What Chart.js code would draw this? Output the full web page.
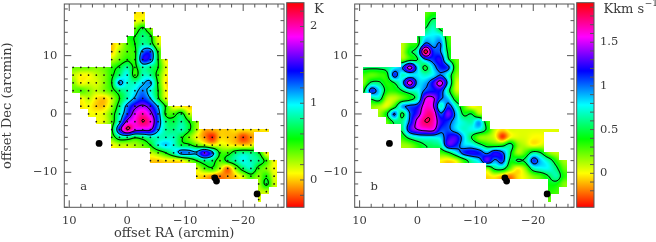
<!DOCTYPE html>
<html>
<head>
<meta charset="utf-8">
<script src="https://cdn.jsdelivr.net/npm/chart.js@4"></script>
<style>
body { margin: 0; background: #fff; }
canvas { position: absolute; top: 0; filter: blur(0.35px); }
</style>
</head>
<body>
<canvas id="mapA" width="288" height="242" style="left:0"></canvas>
<canvas id="barA" width="40" height="242" style="left:286px"></canvas>
<canvas id="mapB" width="258" height="242" style="left:320px"></canvas>
<canvas id="barB" width="80" height="242" style="left:576px"></canvas>
<script>
// map grid, arcmin
const raOffsets = [9.33,8,6.67,5.33,4,2.67,1.33,0,-1.33,-2.67,-4,-5.33,-6.67,-8,-9.33,-10.67,-12,-13.33,-14.67,-16,-17.33,-18.67,-20,-21.33,-22.67,-24,-25.33];
const decOffsets = [17.33,16,14.67,13.33,12,10.67,9.33,8,6.67,5.33,4,2.67,1.33,0,-1.33,-2.67,-4,-5.33,-6.67,-8,-9.33,-10.67,-12,-13.33,-14.67];

// each row: first RA column, then the values
const tempRows = [
  [8,.05,.05],
  [8,.1,.15],
  [8,.35,.6,.3],
  [7,.5,.55,.75,.6,.15],
  [5,0,.15,.4,.55,.8,.7,.2],
  [5,0,.25,.4,.5,1.2,1.3,.5],
  [5,.2,.35,.5,.5,1.4,1.3,.55,.1],
  [0,.35,.35,.35,.3,.35,.45,.6,.8,.5,.85,.75,.55,.15],
  [0,.2,.1,.1,.2,.3,.5,.75,.95,.45,.85,.8,.45,.1],
  [0,.3,.1,.15,.15,.3,.55,1.15,.9,.85,1.05,1.15,.5,.05],
  [0,.35,.4,.3,.2,.3,.45,.7,.85,1,1.2,.95,.55,.1],
  [1,.1,.2,.05,0,.2,.55,.85,1.15,1.35,1.1,.6,.15],
  [1,.05,.1,0,0,.25,.7,1.2,1.55,1.7,1.5,1.05,.5,.1,.05,0],
  [2,.1,.1,.15,.4,.85,1.35,1.8,2,1.75,1.25,.5,.45,.65,.2],
  [3,.1,.15,.4,1,1.75,1.9,2.15,1.95,1.3,.75,.65,.8,.55,.3],
  [5,.5,1.45,2.15,1.8,1.75,1.7,1.15,.8,.75,.85,.6,.25,-.05,-.05,0,0,.05,.05,.05,.05,.05],
  [5,.4,.75,.8,.6,.7,.85,.85,.85,.85,.6,.35,.1,-.1,-.3,0,0,-.05,-.25,-.1],
  [5,.1,.2,.2,.25,.35,.55,.9,1.05,.9,.65,.6,.4,.25,.1,.15,.1,.05,0,.05],
  [10,.2,.35,.55,.85,1.2,1.2,1.15,1.6,1.2,.5,.45,.7,.8,.75,.6,.1],
  [10,0,0,.05,.05,.1,.3,.55,.75,.7,.4,.62,.8,.95,.85,.75,.45,.1],
  [16,.15,.4,.5,.2,-.15,.3,.7,.85,.45,.3,.1],
  [16,.05,0,-.1,-.15,-.1,0,.2,.45,.3,.5,.15],
  [24,.25,.6,.2],
  [24,.2,.2],
  [24,.15]
];
const intensityRows = [
  [8,.25,.35],
  [8,.35,.55],
  [8,.5,.7,.45],
  [7,.45,.75,.8,.8,.3],
  [5,.1,.3,.4,1.05,.9,1,.35],
  [5,.1,.45,.7,1.9,1.15,1,.45],
  [5,.2,.4,.5,.95,1.1,1.2,.55,.25],
  [0,.55,.55,.55,.6,.75,.95,1.55,.85,.45,.85,1.15,1.05,.3],
  [0,.3,.25,.3,.4,1.1,.7,.8,.8,.7,.8,1,.7,.2],
  [0,.2,.55,.55,.35,.5,.85,1.6,.9,.9,1.2,1.55,.85,.1],
  [0,.45,1.1,.85,.4,.35,.5,.7,.75,1.05,1.15,1.15,.6,.1],
  [1,.55,.65,.15,.1,.25,.4,.65,1.45,1.5,1.05,.85,.35],
  [1,.2,.15,.05,.35,.9,1.05,1.15,1.6,1.5,.7,1.1,.7,.3,0,.05],
  [2,.15,.45,1.02,.45,1,1.3,1.7,1.7,1.05,1.35,.9,.45,.5,.15],
  [3,.25,.55,.6,1.05,1.55,1.8,1.7,1.25,1.1,.85,.7,.65,.9,.35],
  [5,.55,1.2,1.45,1.55,1.55,1.1,1.05,.85,.7,.75,.75,.45,.1,-.05,.05,.05,.05,.05,.05,.05,.05],
  [5,.35,.6,.75,.8,.8,.85,1.2,1.25,.85,.5,.2,.15,.05,-.3,0,.05,.05,0,0],
  [5,.15,.2,.35,.5,.55,.65,1.25,1.15,.85,.8,.6,.4,.35,.4,.6,.2,.1,0,.05],
  [10,.3,.45,.75,1.1,1.2,1.15,.95,1.2,1.05,.55,.15,.3,.6,.5,.2,.1],
  [10,0,-.05,.05,.35,.65,.85,1.3,.95,1.1,.45,.52,.55,1.1,.85,.65,.35,.15],
  [16,.2,.55,.6,.25,0,.2,.65,.75,.75,.55,.25],
  [16,-.05,0,-.1,-.2,-.05,.05,.2,.3,.5,.65,.35],
  [24,.4,.4,.2],
  [24,.35,.3],
  [24,.25]
];

const beamRA = [4.85,-15.1,-15.4,-22.4];
const beamDec = [-5.05,-10.95,-11.5,-13.7];

const xTickValues = [10,8,6,4,2,0,-2,-4,-6,-8,-10,-12,-14,-16,-18,-20,-22,-24,-26];
const yTickValues = [18,16,14,12,10,8,6,4,2,0,-2,-4,-6,-8,-10,-12,-14,-16];
const tempLevels = [.55,1.1,1.65,2.15];
const intensityLevels = [.5,1,1.45,1.8];
const tempBarTicks = [-.2,0,.2,.4,.6,.8,1,1.2,1.4,1.6,1.8,2,2.2];
const tempBarLabels = [0,1,2];
const intensityBarTicks = [-.2,-.1,0,.1,.2,.3,.4,.5,.6,.7,.8,.9,1,1.1,1.2,1.3,1.4,1.5,1.6,1.7,1.8,1.9];
const intensityBarLabels = [0,.5,1,1.5];

const FONT = { family: '"DejaVu Serif"', size: 11.5 };
const TITLE_FONT = { family: '"DejaVu Serif"', size: 13 };
const INK = '#3a3a3a';
const FRAME = '#555';
const minus = v => String(v).replace('-', '\u2212');
const noScalePadding = s => { s.paddingTop = s.paddingBottom = s.paddingLeft = s.paddingRight = 0; };

function expand(rows) {
  return rows.map(r => {
    const out = new Array(raOffsets.length).fill(null);
    r.slice(1).forEach((v, k) => { out[r[0] + k] = v; });
    return out;
  });
}

// bleed values outward so the spline has something to read at the map edge
function padded(cells) {
  let g = cells.map(r => r.slice());
  for (let pass = 0; pass < 8; pass++) {
    const next = g.map(r => r.slice());
    g.forEach((r, j) => r.forEach((v, i) => {
      if (v !== null) return;
      const near = [[0,1],[0,-1],[1,0],[-1,0]].map(d => (g[j + d[0]] || [])[i + d[1]]).filter(n => n !== null && n !== undefined);
      if (near.length) next[j][i] = near.reduce((a, b) => a + b, 0) / near.length;
    }));
    g = next;
  }
  return g.map(r => r.map(v => v === null ? 0 : v));
}

function cr(t) {
  const t2 = t * t, t3 = t2 * t;
  return [(-t3 + 2 * t2 - t) / 2, (3 * t3 - 5 * t2 + 2) / 2, (-3 * t3 + 4 * t2 + t) / 2, (t3 - t2) / 2];
}

function sampler(grid) {
  const nj = grid.length, ni = grid[0].length;
  return (u, v) => {
    const i = Math.floor(u), j = Math.floor(v);
    const wu = cr(u - i), wv = cr(v - j);
    let s = 0;
    for (let b = 0; b < 4; b++) {
      const row = grid[Math.min(nj - 1, Math.max(0, j + b - 1))];
      for (let a = 0; a < 4; a++) s += wu[a] * wv[b] * row[Math.min(ni - 1, Math.max(0, i + a - 1))];
    }
    return s;
  };
}

function hueRgb(h) {
  h = ((h % 360) + 360) % 360 / 60;
  const x = 1 - Math.abs(h % 2 - 1);
  const c = [[1,x,0],[x,1,0],[0,1,x],[0,x,1],[x,0,1],[1,0,x]][Math.floor(h)];
  return c.map(k => Math.round(k * 255));
}

// map edge hugs the dots on the top/left and sits a little past them right/bottom
function inMask(cells, u, v) {
  const cell = (i, j) => (cells[j] || [])[i];
  const ok = c => c !== null && c !== undefined;
  const uu = u + 0.09, vv = v + 0.09, i = Math.floor(uu), j = Math.floor(vv), fu = uu - i, fv = vv - j, m = 0.43;
  if (!ok(cell(i, j))) return false;
  if (fu > m && !ok(cell(i + 1, j))) return false;
  if (fv > m && !ok(cell(i, j + 1))) return false;
  if (fu > m && fv > m && !ok(cell(i + 1, j + 1))) return false;
  return true;
}

const shadedMap = {
  id: 'shadedMap',
  beforeDatasetsDraw(chart, args, opts) {
    const { ctx, chartArea: a, scales: { x, y } } = chart;
    const cells = expand(opts.rows), f = sampler(padded(cells));
    const du = (raOffsets[0] - raOffsets[raOffsets.length - 1]) / (raOffsets.length - 1);
    const dv = (decOffsets[0] - decOffsets[decOffsets.length - 1]) / (decOffsets.length - 1);
    const x0 = Math.floor(a.left), y0 = Math.floor(a.top), w = Math.ceil(a.right) - x0, h = Math.ceil(a.bottom) - y0;
    const field = new Float32Array(w * h).fill(NaN);
    const off = document.createElement('canvas');
    off.width = w; off.height = h;
    const octx = off.getContext('2d'), img = octx.createImageData(w, h);
    for (let py = 0; py < h; py++) {
      const v = (decOffsets[0] - y.getValueForPixel(y0 + py + .5)) / dv;
      for (let px = 0; px < w; px++) {
        const u = (raOffsets[0] - x.getValueForPixel(x0 + px + .5)) / du;
        if (!inMask(cells, u, v)) continue;
        const val = f(u, v), k = py * w + px;
        field[k] = val;
        const t = Math.min(1, Math.max(0, (val - opts.vmin) / (opts.vmax - opts.vmin)));
        const c = hueRgb(360 * t);
        img.data[k * 4] = c[0]; img.data[k * 4 + 1] = c[1]; img.data[k * 4 + 2] = c[2]; img.data[k * 4 + 3] = 255;
      }
    }
    octx.putImageData(img, 0, 0);
    ctx.drawImage(off, x0, y0);

    // contours, marching squares over the shaded pixels
    ctx.save();
    ctx.strokeStyle = 'rgba(0,0,0,.85)';
    ctx.lineWidth = 0.8;
    ctx.lineCap = 'round';
    ctx.beginPath();
    opts.levels.forEach(L => {
      for (let py = 0; py < h - 1; py++) for (let px = 0; px < w - 1; px++) {
        const a0 = field[py * w + px], b0 = field[py * w + px + 1], c0 = field[(py + 1) * w + px + 1], d0 = field[(py + 1) * w + px];
        if (isNaN(a0) || isNaN(b0) || isNaN(c0) || isNaN(d0)) continue;
        const pts = [];
        if ((a0 < L) !== (b0 < L)) pts.push([px + (L - a0) / (b0 - a0), py]);
        if ((b0 < L) !== (c0 < L)) pts.push([px + 1, py + (L - b0) / (c0 - b0)]);
        if ((d0 < L) !== (c0 < L)) pts.push([px + (L - d0) / (c0 - d0), py + 1]);
        if ((a0 < L) !== (d0 < L)) pts.push([px, py + (L - a0) / (d0 - a0)]);
        for (let s = 0; s + 1 < pts.length; s += 2) {
          ctx.moveTo(x0 + pts[s][0] + .5, y0 + pts[s][1] + .5);
          ctx.lineTo(x0 + pts[s + 1][0] + .5, y0 + pts[s + 1][1] + .5);
        }
      }
    });
    ctx.stroke();
    ctx.restore();
  }
};

// frame and inward ticks on all four sides
const frameTicks = {
  id: 'frameTicks',
  afterDatasetsDraw(chart, args, opts) {
    const { ctx, chartArea: a, scales: { x, y } } = chart;
    ctx.save();
    ctx.strokeStyle = FRAME;
    ctx.lineWidth = 1;
    ctx.strokeRect(a.left, a.top, a.right - a.left, a.bottom - a.top);
    ctx.beginPath();
    xTickValues.forEach(v => {
      const p = x.getPixelForValue(v), n = v % 10 === 0 ? 7 : 3.5;
      ctx.moveTo(p, a.bottom); ctx.lineTo(p, a.bottom - n);
      ctx.moveTo(p, a.top); ctx.lineTo(p, a.top + n);
    });
    yTickValues.forEach(v => {
      const p = y.getPixelForValue(v), n = v % 10 === 0 ? 7 : 3.5;
      ctx.moveTo(a.left, p); ctx.lineTo(a.left + n, p);
      ctx.moveTo(a.right, p); ctx.lineTo(a.right - n, p);
    });
    ctx.stroke();
    ctx.fillStyle = INK;
    ctx.font = FONT.size + 'px ' + FONT.family;
    ctx.textAlign = 'center';
    ctx.textBaseline = 'middle';
    ctx.fillText(opts.letter, x.getPixelForValue(7.5), y.getPixelForValue(-12.6));
    ctx.restore();
  }
};

function makeMap(id, rows, levels, vmin, vmax, letter, yWidth, padRight, withDots, titles) {
  const dots = [];
  if (withDots) {
    expand(rows).forEach((r, j) => r.forEach((v, i) => {
      if (v !== null) dots.push({ x: raOffsets[i], y: decOffsets[j] });
    }));
  }
  const beams = beamRA.map((ra, k) => ({ x: ra, y: beamDec[k] }));
  return new Chart(document.getElementById(id).getContext('2d'), {
    type: 'scatter',
    data: {
      datasets: [
        { data: dots, pointRadius: 0.85, pointBackgroundColor: '#111', pointBorderWidth: 0 },
        { data: beams, pointRadius: 3.4, pointBackgroundColor: '#000', pointBorderWidth: 0 }
      ]
    },
    options: {
      responsive: false,
      animation: false,
      layout: { padding: { top: 2.7, right: padRight, bottom: 0, left: 0 } },
      scales: {
        x: {
          reverse: true,
          min: -27.04,
          max: 10.85,
          grid: { display: false, drawTicks: false },
          border: { display: false },
          afterFit: s => { s.height = 34.7; noScalePadding(s); },
          afterBuildTicks: s => { s.ticks = xTickValues.map(v => ({ value: v })); },
          ticks: {
            autoSkip: false, maxRotation: 0, padding: 7, color: INK, font: FONT,
            callback: v => v % 10 === 0 ? minus(v) : ''
          },
          title: titles ? { display: true, text: 'offset RA (arcmin)', color: INK, font: TITLE_FONT, padding: { top: 0, bottom: 1 } } : { display: false }
        },
        y: {
          min: -16,
          max: 18.85,
          grid: { display: false, drawTicks: false },
          border: { display: false },
          afterFit: s => { s.width = yWidth; noScalePadding(s); },
          afterBuildTicks: s => { s.ticks = yTickValues.map(v => ({ value: v })); },
          ticks: {
            autoSkip: false, padding: 7, color: INK, font: FONT,
            callback: v => v % 10 === 0 ? minus(v) : ''
          },
          title: titles ? { display: true, text: 'offset Dec (arcmin)', color: INK, font: TITLE_FONT, padding: { top: 0, bottom: 0 } } : { display: false }
        }
      },
      plugins: {
        legend: { display: false },
        tooltip: { enabled: false },
        shadedMap: { rows, levels, vmin, vmax },
        frameTicks: { letter }
      }
    },
    plugins: [shadedMap, frameTicks]
  });
}

// colour bar: one floating bar with a hue gradient up the value axis
function makeBar(id, vmin, vmax, barTicks, barLabels, unit, padLeft, axisWidth) {
  return new Chart(document.getElementById(id).getContext('2d'), {
    type: 'bar',
    data: {
      labels: [unit],
      datasets: [{
        data: [[vmin, vmax]],
        barPercentage: 1,
        categoryPercentage: 1,
        backgroundColor: c => {
          const a = c.chart.chartArea;
          if (!a) return '#fff';
          const g = c.chart.ctx.createLinearGradient(0, a.bottom, 0, a.top);
          for (let k = 0; k <= 12; k++) g.addColorStop(k / 12, 'hsl(' + (k * 30) + ',100%,50%)');
          return g;
        }
      }]
    },
    options: {
      responsive: false,
      animation: false,
      layout: { padding: { top: 2.7, right: 0, bottom: 34.7, left: padLeft } },
      scales: {
        x: { display: false },
        y: {
          position: 'right',
          min: vmin,
          max: vmax,
          grid: { display: false, drawTicks: false },
          border: { display: false },
          afterFit: s => { s.width = axisWidth; noScalePadding(s); },
          afterBuildTicks: s => { s.ticks = barLabels.map(v => ({ value: v })); },
          ticks: { autoSkip: false, padding: 6, color: INK, font: FONT, callback: v => String(v) }
        }
      },
      plugins: { legend: { display: false }, tooltip: { enabled: false } }
    },
    plugins: [{
      id: 'barFrame',
      afterDraw(chart) {
        const { ctx, chartArea: a, scales: { y } } = chart;
        ctx.save();
        ctx.strokeStyle = FRAME;
        ctx.lineWidth = 1;
        ctx.strokeRect(a.left, a.top, a.right - a.left, a.bottom - a.top);
        ctx.beginPath();
        barTicks.forEach(v => {
          const p = y.getPixelForValue(v);
          ctx.moveTo(a.right, p); ctx.lineTo(a.right - 4, p);
        });
        ctx.stroke();
        ctx.fillStyle = INK;
        ctx.font = TITLE_FONT.size + 'px ' + TITLE_FONT.family;
        ctx.textBaseline = 'middle';
        ctx.textAlign = 'left';
        const ux = a.right + (unit === 'K' ? 10 : 9.5);
        ctx.fillText(unit, ux, 10);
        if (unit !== 'K') {
          const w = ctx.measureText(unit).width;
          ctx.font = '9px ' + FONT.family;
          ctx.fillText('\u22121', ux + w + 0.5, 4);
        }
        ctx.restore();
      }
    }]
  });
}

makeMap('mapA', tempRows, tempLevels, -.356, 2.31, 'a', 64.3, 1.3, true, true);
makeBar('barA', -.356, 2.31, tempBarTicks, tempBarLabels, 'K', .7, 22);
makeMap('mapB', intensityRows, intensityLevels, -.389, 1.952, 'b', 34.7, 1.3, false, false);
makeBar('barB', -.389, 1.952, intensityBarTicks, intensityBarLabels, 'Kkm s', .7, 62);
</script>
</body>
</html>
